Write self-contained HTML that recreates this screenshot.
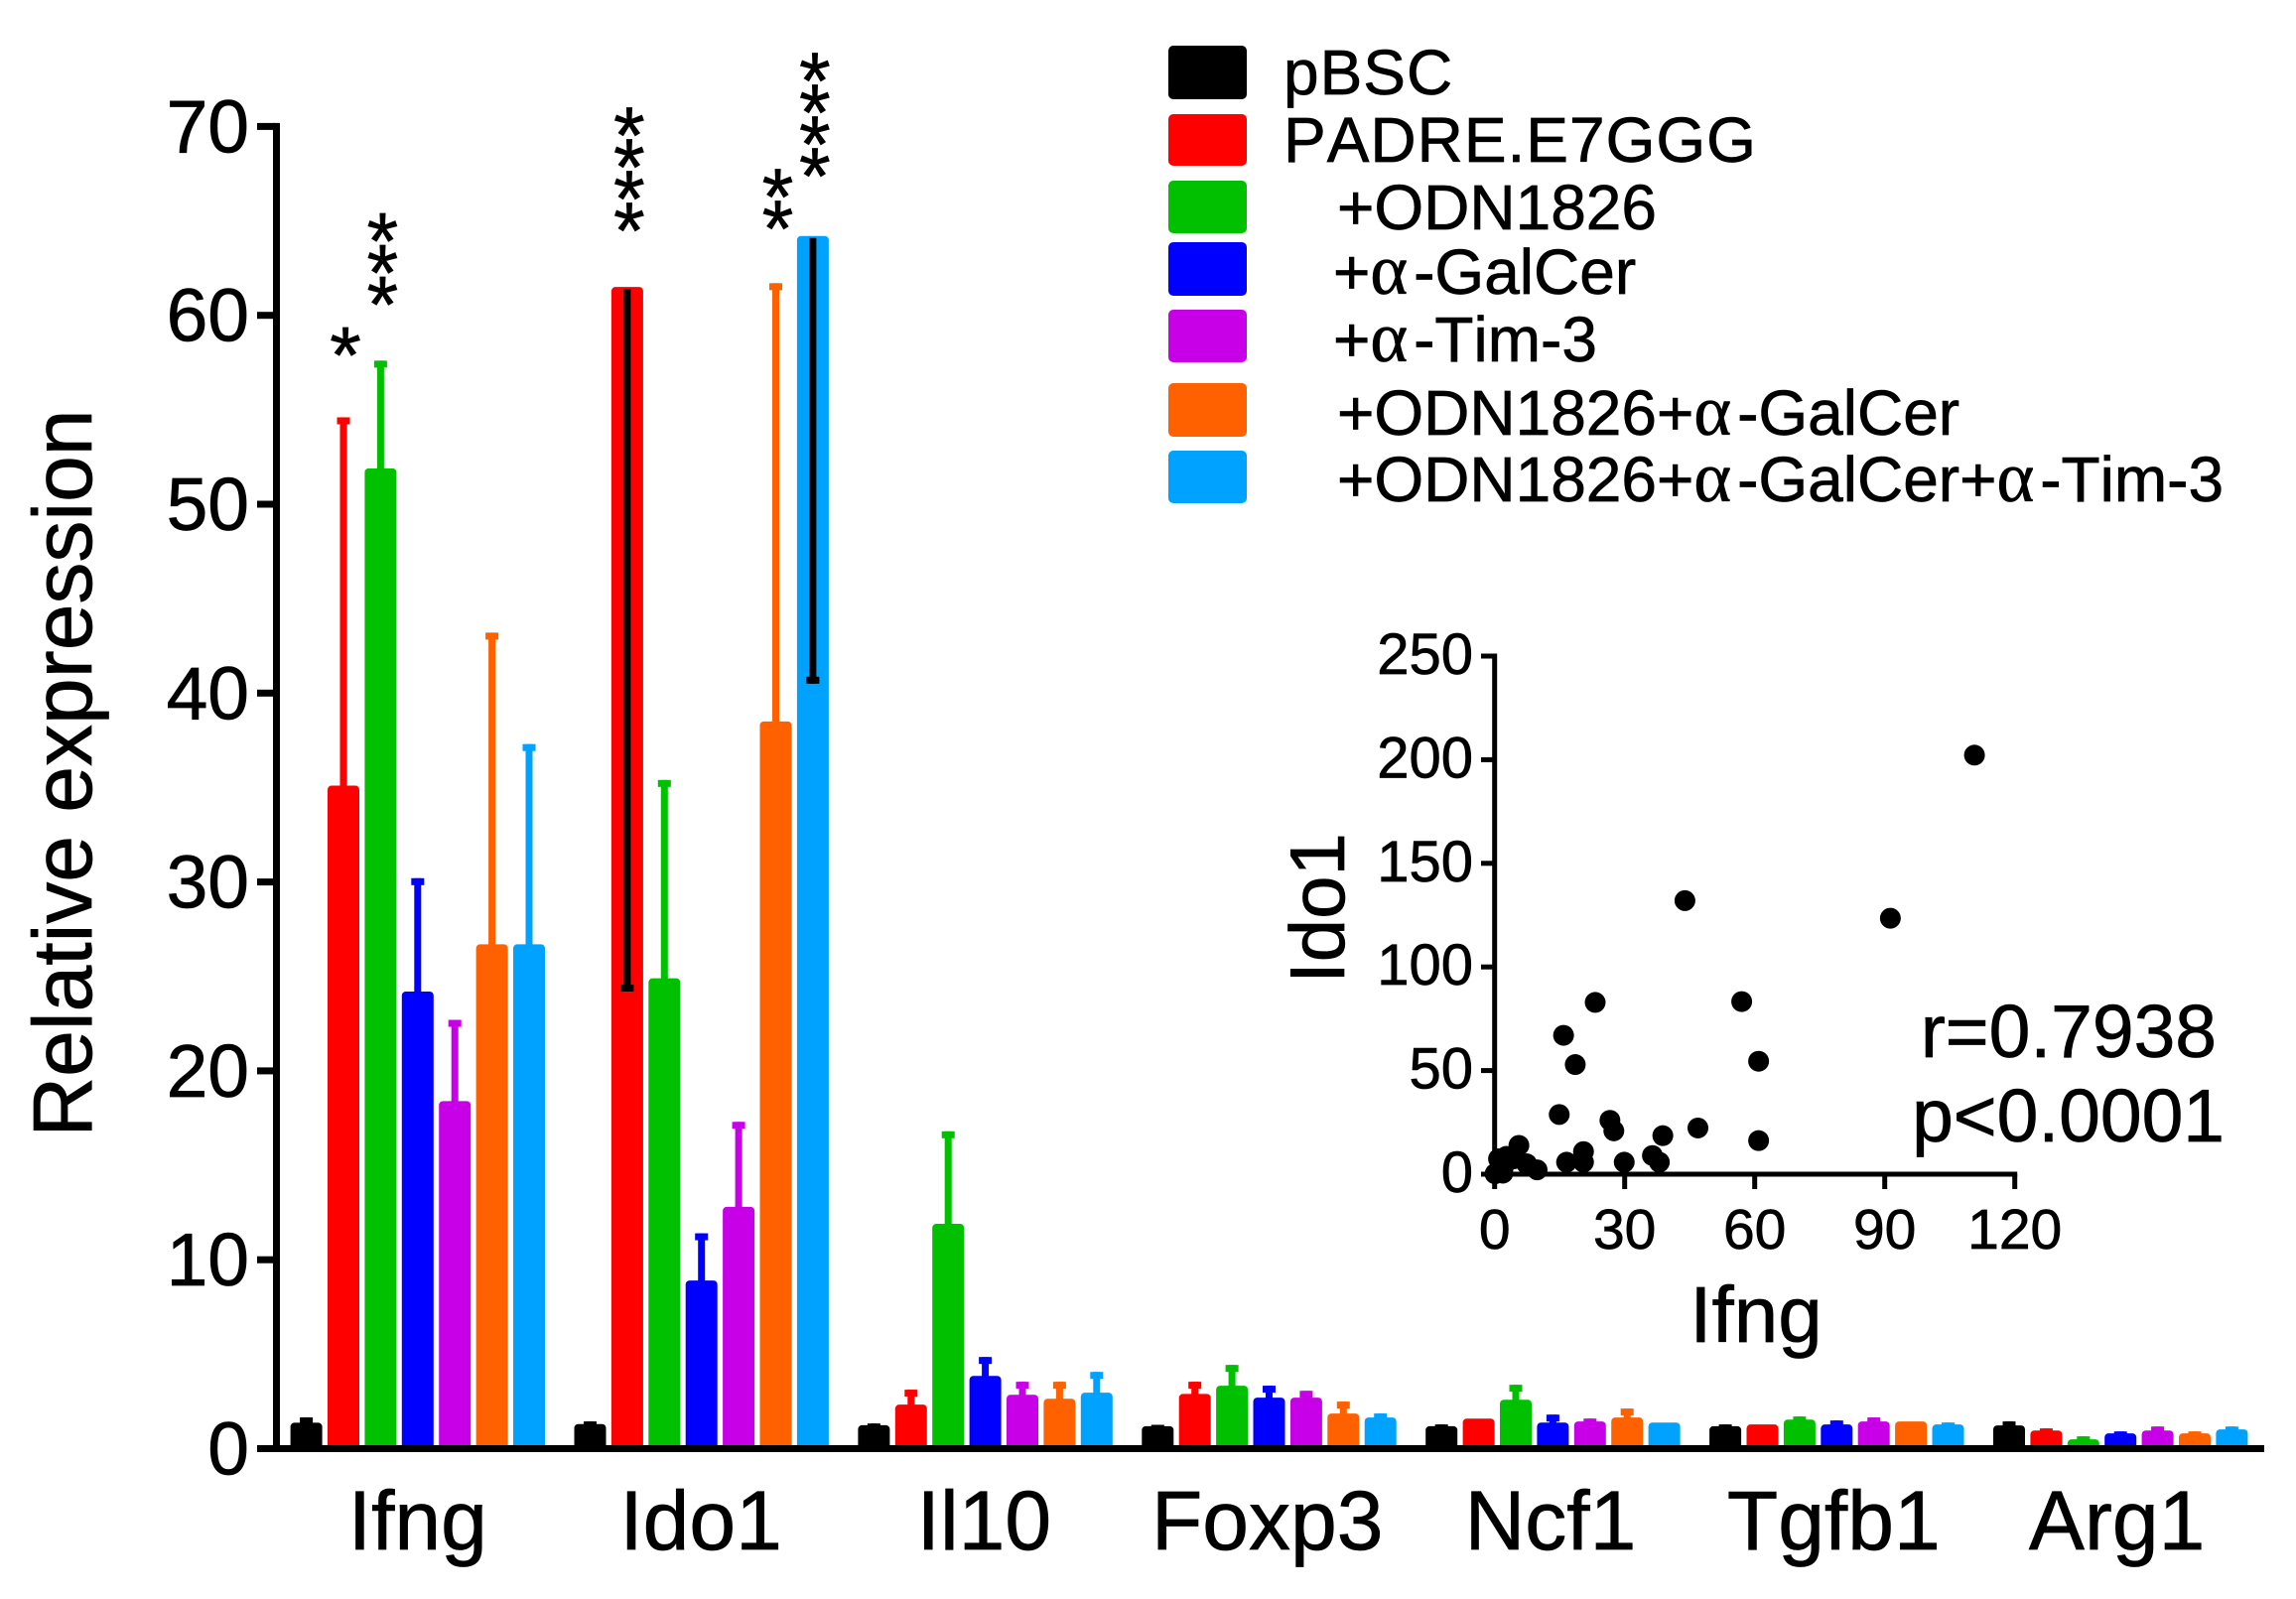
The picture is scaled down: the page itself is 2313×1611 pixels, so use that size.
<!DOCTYPE html>
<html lang="en">
<head>
<meta charset="utf-8">
<title>Relative expression chart</title>
<style>
html,body{margin:0;padding:0;background:#fff;}
svg{display:block;}
text{font-family:"Liberation Sans",sans-serif;fill:#000;stroke:#000;stroke-width:0.7px;font-kerning:none;}
.a{font-family:"Liberation Serif",serif;font-size:72px;letter-spacing:6px;}
</style>
</head>
<body>
<svg id="fig" xmlns="http://www.w3.org/2000/svg" width="2313" height="1611" viewBox="0 0 2313 1611">
  <rect x="0" y="0" width="2313" height="1611" fill="#fff"/>
  <g id="bars"></g>
  <g id="axes"></g>
  <text transform="translate(92,779) rotate(-90)" text-anchor="middle" font-size="84">Relative expression</text>

  <g font-size="64">
    <rect x="1177" y="46" width="79" height="54" rx="5" fill="#000"/>
    <text x="1293" y="95" letter-spacing="1">pBSC</text>
    <rect x="1177" y="115" width="79" height="52" rx="5" fill="#ff0000"/>
    <text x="1293" y="163" letter-spacing="1">PADRE.E7GGG</text>
    <rect x="1177" y="182" width="79" height="53" rx="5" fill="#00c000"/>
    <text x="1347" y="231">+ODN1826</text>
    <rect x="1177" y="244" width="79" height="54" rx="5" fill="#0000ff"/>
    <text x="1343" y="296">+<tspan class="a">α</tspan>-GalCer</text>
    <rect x="1177" y="312" width="79" height="53" rx="5" fill="#c800e8"/>
    <text x="1343" y="364">+<tspan class="a">α</tspan>-Tim-3</text>
    <rect x="1177" y="386" width="79" height="54" rx="5" fill="#ff6000"/>
    <text x="1347" y="438">+ODN1826+<tspan class="a">α</tspan>-GalCer</text>
    <rect x="1177" y="454" width="79" height="53" rx="5" fill="#00a2ff"/>
    <text x="1347" y="505">+ODN1826+<tspan class="a">α</tspan>-GalCer+<tspan class="a">α</tspan>-Tim-3</text>
  </g>

  <g id="inset"></g>
  <text transform="translate(1354,915) rotate(-90)" text-anchor="middle" font-size="78">Ido1</text>
  <text x="1769" y="1352" text-anchor="middle" font-size="80">Ifng</text>
  <text x="2233" y="1065" text-anchor="end" font-size="75">r=0.7938</text>
  <text x="2241" y="1150" text-anchor="end" font-size="75">p&lt;0.0001</text>
</svg>

<script>
// ---- bar chart data ----
const genes = ['Ifng','Ido1','Il10','Foxp3','Ncf1','Tgfb1','Arg1'];
const seriesNames = ['pbsc','padre','odn1826','galcer','tim3','odn-galcer','odn-galcer-tim3'];
const seriesColors = ['#000000','#ff0000','#00c000','#0000ff','#c800e8','#ff6000','#00a2ff'];
const yTicks = [0,10,20,30,40,50,60,70];

const pbscValues    = [1.37,1.30,1.24,1.19,1.19,1.19,1.23];
const pbscErrors    = [1.65,1.44,1.33,1.26,1.28,1.28,1.44];
const padreValues   = [35.1,61.5,2.33,2.90,1.59,1.28,0.96];
const padreErrors   = [54.6,24.2,3.12,3.54,1.59,1.28,1.07];
const odnValues     = [51.9,24.9,11.9,3.33,2.59,1.54,0.49];
const odnErrors     = [57.6,35.4,16.8,4.43,3.38,1.70,0.65];
const galcerValues  = [24.2,8.9,3.85,2.70,1.38,1.28,0.81];
const galcerErrors  = [30.2,11.4,4.85,3.33,1.80,1.49,0.91];
const timValues     = [18.4,12.8,2.85,2.70,1.44,1.44,0.96];
const timErrors     = [22.7,17.3,3.54,3.06,1.59,1.65,1.17];
const comboValues   = [26.7,38.5,2.64,1.86,1.65,1.44,0.81];
const comboErrors   = [43.2,61.7,3.54,2.49,2.12,1.44,0.91];
const tripleValues  = [26.7,64.2,2.96,1.65,1.38,1.28,1.02];
const tripleErrors  = [37.3,40.5,4.06,1.86,1.38,1.38,1.17];

const seriesValues = [pbscValues,padreValues,odnValues,galcerValues,timValues,comboValues,tripleValues];
const seriesErrors = [pbscErrors,padreErrors,odnErrors,galcerErrors,timErrors,comboErrors,tripleErrors];

// significance annotations: gene index, series index, star count, value at lowest star
const sigGene   = [0,0,1,1,1];
const sigSeries = [1,2,1,5,6];
const sigCount  = [1,3,4,2,4];
const sigValue  = [58.9,61.6,65.5,65.6,68.4];

// ---- inset scatter data ----
const insetXTicks = [0,30,60,90,120];
const insetYTicks = [0,50,100,150,200,250];
const ifngPoints = [110.7,91.3,43.9,57,23.2,15.9,18.6,60.9,14.9,26.6,27.5,38.8,46.9,60.9,20.5,20.5,16.6,29.9,36.4,38,5.6,9.8,7.4,4.4,2.7,2.1,0.9,1.9,0.3,0.1];
const ido1Points = [202.2,123.5,132,83.3,82.9,67,52.9,54.5,28.8,26,20.9,18.6,22.3,16.2,10.9,5.8,5.8,5.8,9,5.8,13.9,2.1,5,7.4,8.6,3.9,7.4,0.5,0.5,0.2];

const NS = 'http://www.w3.org/2000/svg';
function mk(parent, tag, attrs, txt){
  const el = document.createElementNS(NS, tag);
  for (const k in attrs) el.setAttribute(k, attrs[k]);
  if (txt !== undefined) el.textContent = txt;
  parent.appendChild(el);
  return el;
}

// axis functions
const y0 = 1459.5, pxPerUnit = 19.03;
const yScale = v => y0 - v * pxPerUnit;
const groupX = g => 292.6 + g * 285.9;
const barX = (g, s) => groupX(g) + s * 37.4;
const barW = 32;

const barsG = document.getElementById('bars');
const axesG = document.getElementById('axes');

seriesValues.forEach((vals, s) => {
  const color = seriesColors[s];
  vals.forEach((v, g) => {
    const x = barX(g, s), top = yScale(v), cx = x + barW / 2;
    const e = seriesErrors[s][g], ey = yScale(e);
    const down = e < v;
    if (!down && e > v) {
      const stem = mk(barsG, 'rect', {x: cx - 3.5, y: ey, width: 7, height: Math.max(0, top - ey + 2), fill: color});
      
      
      const cap = mk(barsG, 'rect', {x: cx - 6.5, y: ey, width: 13, height: 7, fill: color});
      
      
    }
    const bar = mk(barsG, 'rect', {x: x, y: top, width: barW, height: y0 - top + 2, rx: 4, ry: 4, fill: color});
    
    
    if (down) {
      const stem = mk(barsG, 'rect', {x: cx - 3.5, y: top + 2, width: 7, height: ey - top - 2, fill: '#000'});
      
      
      const cap = mk(barsG, 'rect', {x: cx - 6.5, y: ey - 7, width: 13, height: 7, fill: '#000'});
      
      
    }
  });
});

// main axes
const yAxisLine = mk(axesG, 'rect', {x: 275, y: yScale(70) - 3.5, width: 7, height: y0 - yScale(70) + 7, fill: '#000'});


const xAxisLine = mk(axesG, 'rect', {x: 259, y: y0 - 3.5, width: 2022, height: 7, fill: '#000'});


yTicks.forEach(t => {
  const tick = mk(axesG, 'rect', {x: 259, y: yScale(t) - 3.5, width: 18, height: 7, fill: '#000'});
  
  
  const lab = mk(axesG, 'text', {x: 251, y: yScale(t) + 26, 'text-anchor': 'end', 'font-size': 75}, String(t));
  
  
});
genes.forEach((name, g) => {
  const cx = groupX(g) + (6 * 37.4 + barW) / 2 - g * 0.6;
  const lab = mk(axesG, 'text', {x: cx, y: 1561, 'text-anchor': 'middle', 'font-size': 84}, name);
  
  
});

// significance stars
const starStep = 32;
sigGene.forEach((g, i) => {
  const cx = barX(g, sigSeries[i]) + barW / 2 + 2;
  for (let k = 0; k < sigCount[i]; k++) {
    const star = mk(axesG, 'text', {x: cx, y: yScale(sigValue[i]) - k * starStep + 47, 'text-anchor': 'middle', 'font-size': 81}, '*');
    
    
  }
});

// inset axis functions
const inset = document.getElementById('inset');
const ix = v => 1505.7 + v * (131 / 30 * 1.0);
const iy = v => 1183 - v * (104.4 / 50);

const insetYLine = mk(inset, 'rect', {x: 1503.2, y: iy(250) - 2.5, width: 5, height: iy(0) - iy(250) + 5, fill: '#000'});


const insetXLine = mk(inset, 'rect', {x: 1492, y: iy(0) - 2.5, width: ix(120) + 2.5 - 1492, height: 5, fill: '#000'});


insetYTicks.forEach(t => {
  const tick = mk(inset, 'rect', {x: 1492, y: iy(t) - 2.5, width: 12, height: 5, fill: '#000'});
  
  
  const lab = mk(inset, 'text', {x: 1484, y: iy(t) + 18, 'text-anchor': 'end', 'font-size': 58}, String(t));
  
  
});
insetXTicks.forEach(t => {
  const tick = mk(inset, 'rect', {x: ix(t) - 2.5, y: iy(0), width: 5, height: 15, fill: '#000'});
  
  
  const lab = mk(inset, 'text', {x: ix(t), y: 1258, 'text-anchor': 'middle', 'font-size': 57}, String(t));
  
  
});
ifngPoints.forEach((v, i) => {
  const p = mk(inset, 'circle', {cx: ix(v), cy: iy(ido1Points[i]), r: 10.5, fill: '#000'});
  
  
});
</script>
</body>
</html>
